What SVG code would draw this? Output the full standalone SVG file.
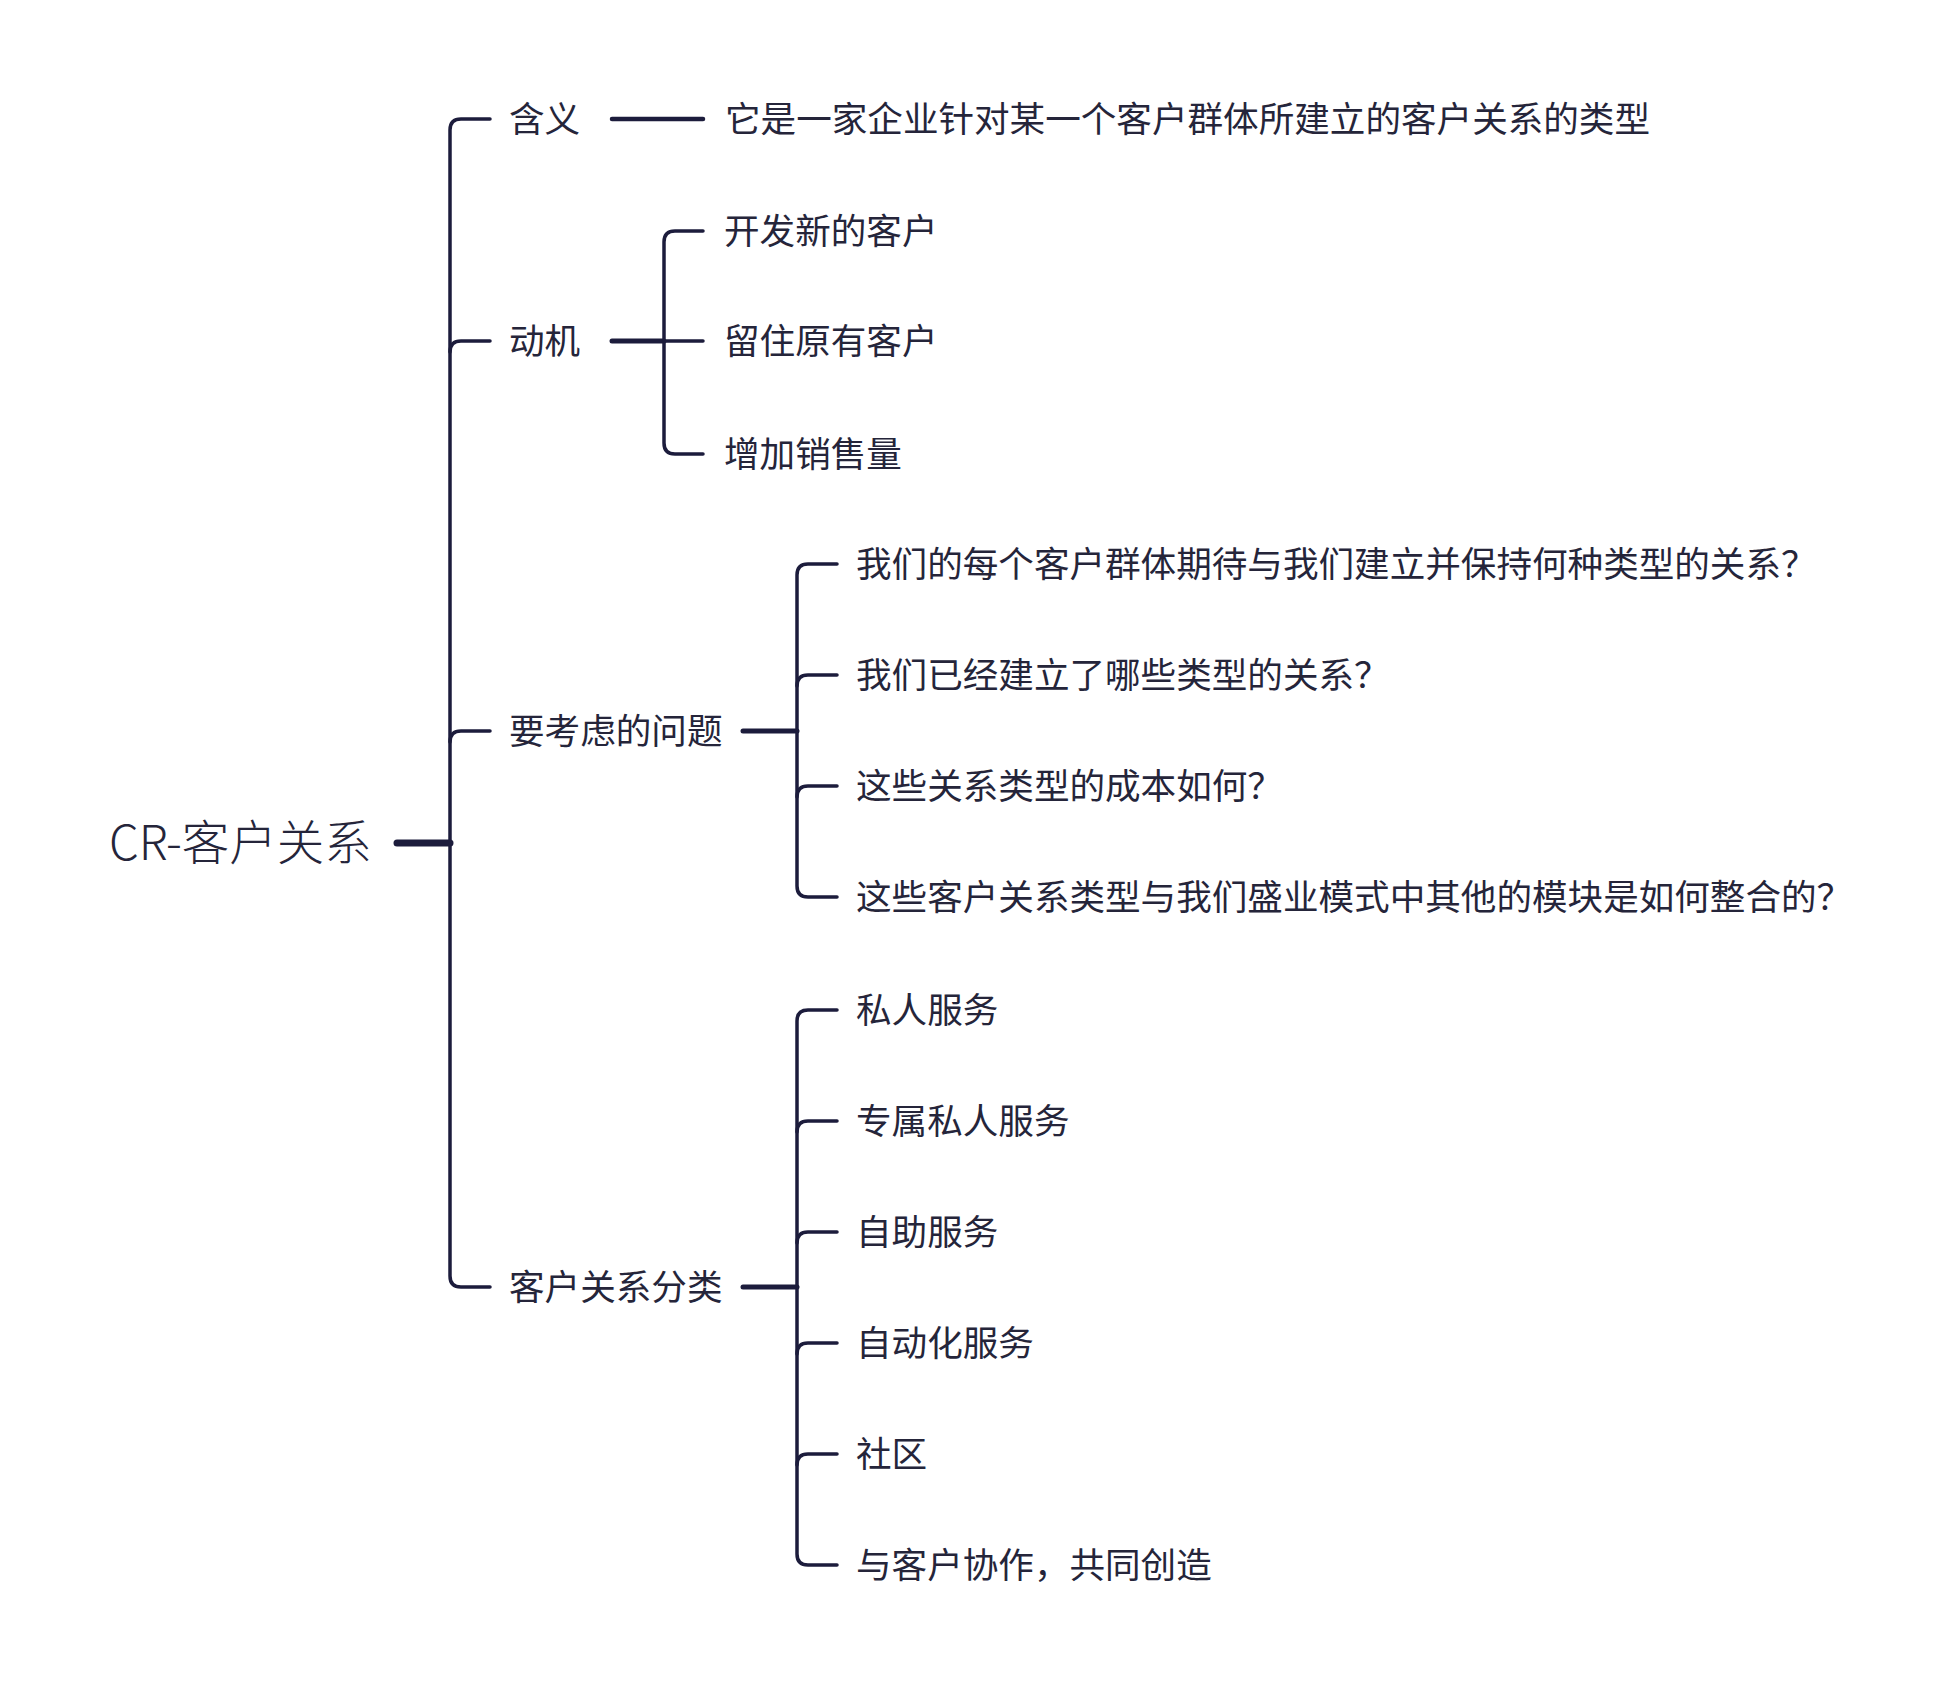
<svg xmlns="http://www.w3.org/2000/svg" width="1960" height="1682" viewBox="0 0 1960 1682">
<style>
.ln{fill:none;stroke:#1c1c3c;stroke-linecap:round;stroke-linejoin:round}
.t{font-family:"Noto Sans CJK SC","Microsoft YaHei",sans-serif;fill:#25253a;font-size:35.6px}
.root{font-size:47.5px;font-weight:300}
</style>
<rect width="1960" height="1682" fill="#ffffff"/>
<g id="connectors">
<path class="ln" d="M397,843 H450" stroke-width="7"/>
<path class="ln" d="M490,119 H461 Q450,119 450,130 V1276 Q450,1287 461,1287 H490" stroke-width="3.5"/>
<path class="ln" d="M450,352 Q450,341 461,341 H490" stroke-width="3.5"/>
<path class="ln" d="M450,742 Q450,731 461,731 H490" stroke-width="3.5"/>
<path class="ln" d="M612,119 H703" stroke-width="4.5"/>
<path class="ln" d="M612,341 H664" stroke-width="5"/>
<path class="ln" d="M703,231 H675 Q664,231 664,242 V443 Q664,454 675,454 H703" stroke-width="3.5"/>
<path class="ln" d="M664,341 H703" stroke-width="3.5"/>
<path class="ln" d="M743,731 H797" stroke-width="5"/>
<path class="ln" d="M837,564 H808 Q797,564 797,575 V886 Q797,897 808,897 H837" stroke-width="3.5"/>
<path class="ln" d="M797,686 Q797,675 808,675 H837" stroke-width="3.5"/>
<path class="ln" d="M797,797 Q797,786 808,786 H837" stroke-width="3.5"/>
<path class="ln" d="M743,1287 H797" stroke-width="5"/>
<path class="ln" d="M837,1010 H808 Q797,1010 797,1021 V1554 Q797,1565 808,1565 H837" stroke-width="3.5"/>
<path class="ln" d="M797,1132 Q797,1121 808,1121 H837" stroke-width="3.5"/>
<path class="ln" d="M797,1243 Q797,1232 808,1232 H837" stroke-width="3.5"/>
<path class="ln" d="M797,1354 Q797,1343 808,1343 H837" stroke-width="3.5"/>
<path class="ln" d="M797,1465 Q797,1454 808,1454 H837" stroke-width="3.5"/>
</g>
<g id="root"><text class="t root" x="109" y="860">CR-客户关系</text></g>
<g id="n-meaning"><text class="t" x="509" y="132">含义</text></g>
<g id="n-meaning-desc"><text class="t" x="725" y="132">它是一家企业针对某一个客户群体所建立的客户关系的类型</text></g>
<g id="n-motive"><text class="t" x="509" y="354">动机</text></g>
<g id="n-motive-1"><text class="t" x="724" y="244">开发新的客户</text></g>
<g id="n-motive-2"><text class="t" x="724" y="354">留住原有客户</text></g>
<g id="n-motive-3"><text class="t" x="724" y="467">增加销售量</text></g>
<g id="n-questions"><text class="t" x="509" y="744">要考虑的问题</text></g>
<g id="n-q1"><text class="t" x="856" y="577">我们的每个客户群体期待与我们建立并保持何种类型的关系？</text></g>
<g id="n-q2"><text class="t" x="856" y="688">我们已经建立了哪些类型的关系？</text></g>
<g id="n-q3"><text class="t" x="856" y="799">这些关系类型的成本如何？</text></g>
<g id="n-q4"><text class="t" x="856" y="910">这些客户关系类型与我们盛业模式中其他的模块是如何整合的？</text></g>
<g id="n-types"><text class="t" x="509" y="1300">客户关系分类</text></g>
<g id="n-t1"><text class="t" x="856" y="1023">私人服务</text></g>
<g id="n-t2"><text class="t" x="856" y="1134">专属私人服务</text></g>
<g id="n-t3"><text class="t" x="856" y="1245">自助服务</text></g>
<g id="n-t4"><text class="t" x="856" y="1356">自动化服务</text></g>
<g id="n-t5"><text class="t" x="856" y="1467">社区</text></g>
<g id="n-t6"><text class="t" x="856" y="1578">与客户协作，共同创造</text></g>
</svg>
